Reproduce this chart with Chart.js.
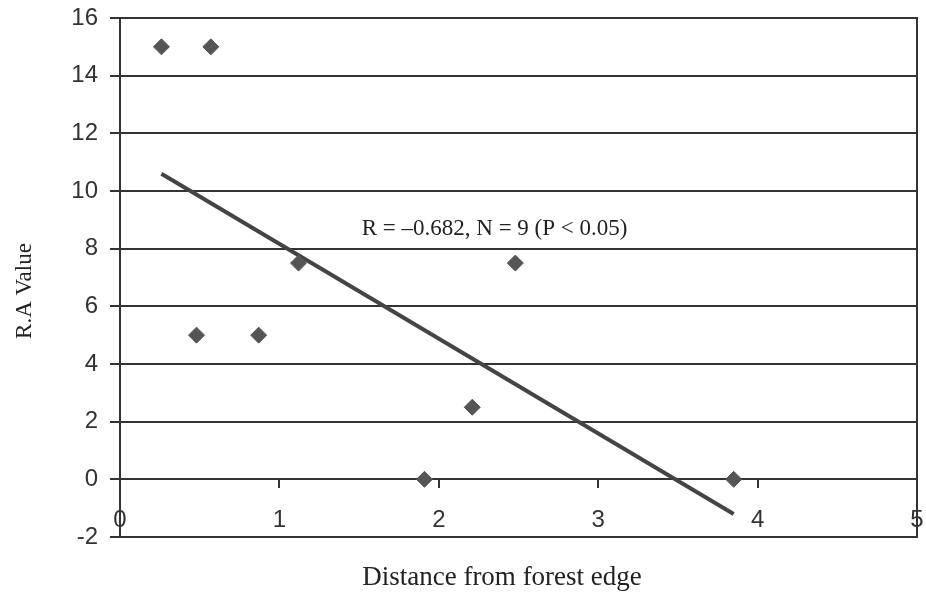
<!doctype html>
<html lang="en">

<head>
    <meta charset="utf-8">
    <title>R.A Value vs distance from forest edge</title>
    <style>
        * {
            margin: 0;
            padding: 0;
        }

        body {
            background: #fff;
        }

        .chartBox {
            width: 926px;
            height: 596px;
        }
    </style>
</head>

<body>
    <div class="chartBox">
        <canvas id="myChart"></canvas>
    </div>

    <script src="https://cdn.jsdelivr.net/npm/chart.js"></script>

    <script>
        // data
        const distance = [0.26, 0.57, 0.48, 0.87, 1.12, 1.91, 2.21, 2.48, 3.85]
        const raValue = [15, 15, 5, 5, 7.5, 0, 2.5, 7.5, 0]

        // regression line end points
        const trendX = [0.26, 3.85]
        const trendY = [10.6, -1.2]

        const xTicks = [0, 1, 2, 3, 4, 5]
        const yTicks = [-2, 0, 2, 4, 6, 8, 10, 12, 14, 16]

        const statLabel = 'R = \u20130.682, N = 9 (P < 0.05)'
        const statAt = [2.35, 8.7]

        const xTitle = 'Distance from forest edge'
        const yTitle = 'R.A Value'

        const ink = '#333'
        const serif = 'Liberation Serif'
        const sans = 'Liberation Sans'

        const points = distance.map((d, i) => ({ x: d, y: raValue[i] }))
        const trend = trendX.map((d, i) => ({ x: d, y: trendY[i] }))

        // plot frame, axis titles and the R label
        const extras = {
            id: 'extras',
            beforeDatasetsDraw(chart) {
                const { ctx, chartArea: a } = chart
                ctx.save()
                ctx.strokeStyle = ink
                ctx.lineWidth = 2
                ctx.strokeRect(a.left, a.top, a.right - a.left, a.bottom - a.top)
                ctx.restore()
            },
            afterDraw(chart) {
                const { ctx, scales } = chart
                ctx.save()
                ctx.fillStyle = '#222'
                ctx.textAlign = 'center'
                ctx.textBaseline = 'middle'
                ctx.font = '23px "' + serif + '"'
                ctx.fillText(statLabel, scales.x.getPixelForValue(statAt[0]), scales.y.getPixelForValue(statAt[1]))

                ctx.font = '27px "' + serif + '"'
                ctx.fillText(xTitle, 502, 578)

                ctx.translate(25, 291)
                ctx.rotate(-Math.PI / 2)
                ctx.font = '23px "' + serif + '"'
                ctx.fillText(yTitle, 0, 0)
                ctx.restore()
            }
        }

        const data = {
            datasets: [
                {
                    label: 'R.A Value',
                    data: points,
                    pointStyle: 'rectRot',
                    pointRadius: 8,
                    pointBackgroundColor: '#555',
                    pointBorderColor: '#555',
                    pointBorderWidth: 1,
                    showLine: false
                },
                {
                    label: 'Trend',
                    type: 'line',
                    data: trend,
                    borderColor: '#444',
                    borderWidth: 4,
                    pointRadius: 0,
                    fill: false
                }
            ]
        }

        const config = {
            type: 'scatter',
            data: data,
            plugins: [extras],
            options: {
                responsive: true,
                maintainAspectRatio: false,
                animation: false,
                layout: {
                    padding: { top: 18, right: 8, left: 0, bottom: 59 }
                },
                plugins: {
                    legend: { display: false },
                    tooltip: { enabled: false }
                },
                scales: {
                    x: {
                        type: 'linear',
                        position: { y: 0 },
                        min: xTicks[0],
                        max: xTicks[xTicks.length - 1],
                        afterBuildTicks: (scale) => {
                            scale.ticks = xTicks.map(v => ({ value: v }))
                        },
                        afterFit: (scale) => {
                            scale.paddingLeft = 0
                            scale.paddingRight = 0
                        },
                        grid: {
                            drawOnChartArea: false,
                            drawTicks: true,
                            tickLength: 8,
                            color: ink,
                            lineWidth: 2
                        },
                        border: { display: true, color: ink, width: 2 },
                        ticks: {
                            color: ink,
                            padding: 19,
                            font: { family: sans, size: 24 }
                        }
                    },
                    y: {
                        position: 'left',
                        min: yTicks[0],
                        max: yTicks[yTicks.length - 1],
                        afterBuildTicks: (scale) => {
                            scale.ticks = yTicks.map(v => ({ value: v }))
                        },
                        afterFit: (scale) => {
                            scale.width = 120
                            scale.paddingTop = 0
                            scale.paddingBottom = 0
                        },
                        grid: {
                            color: ink,
                            lineWidth: 2,
                            drawTicks: true,
                            tickLength: 10
                        },
                        border: { display: true, color: ink, width: 2 },
                        ticks: {
                            color: ink,
                            padding: 12,
                            font: { family: sans, size: 24 }
                        }
                    }
                }
            }
        }

        const myChart = new Chart(
            document.getElementById('myChart'),
            config
        )
    </script>
</body>

</html>
